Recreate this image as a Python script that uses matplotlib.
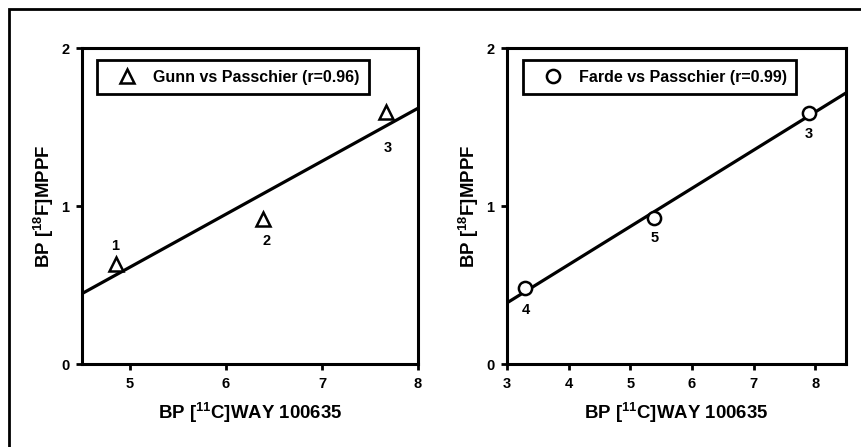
import matplotlib
matplotlib.use("Agg")
import matplotlib.pyplot as plt
import numpy as np
from matplotlib.patches import Rectangle

plt.rcParams["font.family"] = ["Liberation Sans", "DejaVu Sans"]
plt.rcParams["font.weight"] = "bold"
plt.rcParams["mathtext.fontset"] = "custom"
plt.rcParams["mathtext.bf"] = "Liberation Sans:bold"
plt.rcParams["mathtext.rm"] = "Liberation Sans:bold"

# Gunn vs Passchier
gunn_x = [4.85, 6.39, 7.67]
gunn_y = [0.635, 0.92, 1.595]
gunn_ids = ["1", "2", "3"]
gunn_offsets = [(0, 13), (2, -16), (1, -26)]

# Farde vs Passchier
farde_x = [3.29, 5.39, 7.90]
farde_y = [0.48, 0.922, 1.59]
farde_ids = ["4", "5", "3"]
farde_offsets = [(1, -16), (0, -14), (0, -15)]

XLABEL = r"BP [$^{\mathbf{11}}$C]WAY 100635"
YLABEL = r"BP [$^{\mathbf{18}}$F]MPPF"


def draw_panel(ax, x, y, ids, offsets, marker, label, xlim, xticks, leg_x):
    slope, icpt = np.polyfit(x, y, 1)
    xs = np.array(xlim)
    ax.plot(xs, slope * xs + icpt, color="black", lw=2.3, zorder=2,
            solid_capstyle="butt")
    ax.plot(x, y, linestyle="none", marker=marker, markersize=9.5,
            markerfacecolor="white", markeredgecolor="black",
            markeredgewidth=1.8, label=label, zorder=3)
    for xi, yi, t, off in zip(x, y, ids, offsets):
        ax.annotate(t, (xi, yi), xytext=off, textcoords="offset points",
                    ha="center", va="center", fontsize=10.5, fontweight="bold")
    ax.set_xlim(*xlim)
    ax.set_ylim(0, 2)
    ax.set_xticks(xticks)
    ax.set_yticks([0, 1, 2])
    ax.set_xlabel(XLABEL, fontsize=13.4, fontweight="bold", labelpad=7)
    ax.set_ylabel(YLABEL, fontsize=13.4, fontweight="bold", labelpad=4)
    for s in ax.spines.values():
        s.set_linewidth(2.2)
    ax.tick_params(direction="out", length=4, width=2, labelsize=10.5,
                   pad=5)
    for lab in ax.get_xticklabels() + ax.get_yticklabels():
        lab.set_fontweight("bold")
    leg = ax.legend(loc="upper left", bbox_to_anchor=(leg_x, 0.962),
                    borderaxespad=0, fancybox=False, edgecolor="black",
                    framealpha=1, handlelength=2.6, handletextpad=0.3,
                    borderpad=0.6, prop={"size": 11.5, "weight": "bold"})
    leg.get_frame().set_linewidth(2)


fig = plt.figure(figsize=(8.62, 4.47), dpi=100)
fig.patches.append(Rectangle((9 / 862, -0.1), 1.2, 1 - 9 / 447 + 0.1,
                             transform=fig.transFigure, fill=False,
                             edgecolor="black", linewidth=2, zorder=0))

ax1 = fig.add_axes([82 / 862, 1 - 364 / 447, 336 / 862, 316 / 447])
draw_panel(ax1, gunn_x, gunn_y, gunn_ids, gunn_offsets, "^",
           "Gunn vs Passchier (r=0.96)", (4.5, 8), [5, 6, 7, 8], 0.045)

ax2 = fig.add_axes([507 / 862, 1 - 364 / 447, 339 / 862, 316 / 447])
draw_panel(ax2, farde_x, farde_y, farde_ids, farde_offsets, "o",
           "Farde vs Passchier (r=0.99)", (3, 8.5), [3, 4, 5, 6, 7, 8], 0.047)

fig.savefig("out.png", dpi=100)
